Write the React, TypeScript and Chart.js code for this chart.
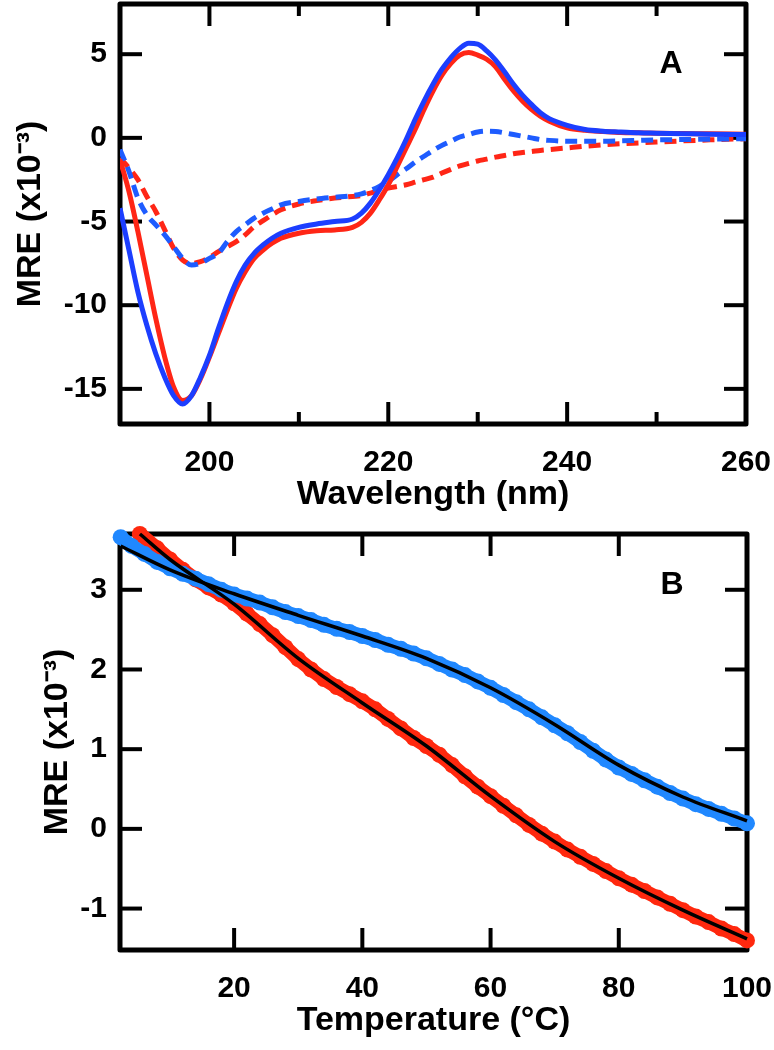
import React, { useEffect, useRef } from 'react';
import { Chart, registerables } from 'chart.js';

Chart.register(...registerables);

// ---------- Panel A: CD spectra ----------
const wavelengthNm = [190, 191, 192, 193, 194, 195, 196, 197, 198, 199, 200, 201, 202, 203, 204, 205, 206, 207, 208, 210, 212, 214, 216, 217, 218, 219, 220, 221, 222, 223, 224, 225, 226, 227, 228, 229, 230, 231, 232, 233, 234, 235, 236, 237, 238, 240, 242, 244, 246, 248, 250, 253, 256, 260];
const mreBlueSolid = [-4.2, -6.7, -9.2, -11.2, -12.9, -14.3, -15.4, -15.9, -15.4, -14.3, -13.0, -11.4, -9.9, -8.6, -7.6, -6.9, -6.4, -6.0, -5.7, -5.35, -5.15, -5.0, -4.85, -4.5, -3.9, -3.1, -2.2, -1.2, -0.1, 1.1, 2.2, 3.2, 4.1, 4.8, 5.35, 5.65, 5.6, 5.2, 4.65, 3.95, 3.2, 2.55, 2.0, 1.5, 1.15, 0.75, 0.5, 0.4, 0.35, 0.3, 0.28, 0.25, 0.22, 0.2];
const mreRedSolid = [-1.3, -3.2, -5.6, -8.2, -10.8, -13.1, -14.9, -15.7, -15.4, -14.4, -13.1, -11.7, -10.3, -9.0, -8.0, -7.2, -6.7, -6.3, -6.0, -5.7, -5.55, -5.5, -5.35, -5.05, -4.5, -3.7, -2.8, -1.7, -0.6, 0.5, 1.7, 2.8, 3.75, 4.45, 4.95, 5.1, 4.95, 4.7, 4.25, 3.5, 2.8, 2.2, 1.7, 1.3, 1.0, 0.6, 0.45, 0.38, 0.32, 0.3, 0.28, 0.26, 0.24, 0.22];
const mreBlueDashed = [-0.7, -2.0, -3.6, -4.6, -5.2, -5.8, -6.5, -7.2, -7.6, -7.5, -7.2, -6.9, -6.2, -5.6, -5.2, -4.8, -4.5, -4.25, -4.0, -3.8, -3.65, -3.55, -3.45, -3.35, -3.15, -2.9, -2.6, -2.2, -1.85, -1.45, -1.1, -0.75, -0.45, -0.2, 0.05, 0.2, 0.35, 0.4, 0.38, 0.3, 0.2, 0.1, 0.0, -0.1, -0.15, -0.2, -0.2, -0.2, -0.18, -0.15, -0.12, -0.1, -0.08, -0.05];
const mreRedDashed = [-1.2, -1.8, -2.5, -3.5, -4.4, -5.5, -6.6, -7.3, -7.5, -7.4, -7.15, -6.8, -6.5, -6.2, -5.8, -5.3, -4.95, -4.6, -4.3, -3.95, -3.75, -3.6, -3.5, -3.45, -3.3, -3.15, -3.0, -2.9, -2.8, -2.65, -2.5, -2.35, -2.1, -1.88, -1.68, -1.52, -1.38, -1.27, -1.15, -1.05, -0.95, -0.88, -0.82, -0.75, -0.7, -0.6, -0.5, -0.42, -0.35, -0.3, -0.25, -0.18, -0.12, -0.05];
const wavelengthTicks = [200, 220, 240, 260];
const wavelengthMinorTicks = [210, 230, 250];
const mreTicksA = [-15, -10, -5, 0, 5];

// ---------- Panel B: thermal melts ----------
const tempBlueC = [2.3, 4, 6, 8, 10, 12, 14, 16, 18, 20, 22, 24, 26, 28, 30, 32, 34, 36, 38, 40, 42, 44, 46, 48, 50, 52, 54, 56, 58, 60, 62, 64, 66, 68, 70, 72, 74, 76, 78, 80, 82, 84, 86, 88, 90, 92, 94, 96, 98, 100];
const mreBlueMelt = [3.66, 3.55, 3.45, 3.35, 3.27, 3.20, 3.14, 3.07, 3.00, 2.94, 2.89, 2.84, 2.78, 2.72, 2.67, 2.62, 2.56, 2.51, 2.47, 2.42, 2.37, 2.31, 2.26, 2.20, 2.14, 2.07, 2.00, 1.93, 1.85, 1.77, 1.68, 1.59, 1.50, 1.40, 1.30, 1.20, 1.09, 0.98, 0.87, 0.77, 0.69, 0.61, 0.53, 0.45, 0.38, 0.31, 0.25, 0.19, 0.13, 0.07];
const tempRedC = [5.3, 8, 10, 12, 14, 16, 18, 20, 22, 24, 26, 28, 30, 32, 34, 36, 38, 40, 42, 44, 46, 48, 50, 52, 54, 56, 58, 60, 62, 64, 66, 68, 70, 72, 74, 76, 78, 80, 82, 84, 86, 88, 90, 92, 94, 96, 98, 100];
const mreRedMelt = [3.70, 3.52, 3.38, 3.25, 3.13, 3.03, 2.94, 2.83, 2.70, 2.57, 2.43, 2.28, 2.13, 2.00, 1.88, 1.78, 1.69, 1.60, 1.50, 1.38, 1.26, 1.14, 1.04, 0.93, 0.80, 0.66, 0.53, 0.41, 0.29, 0.17, 0.05, -0.06, -0.16, -0.26, -0.35, -0.44, -0.53, -0.62, -0.70, -0.78, -0.86, -0.94, -1.02, -1.10, -1.17, -1.25, -1.32, -1.40];
const fitTempBlue = [2.3, 10, 20, 30, 40, 50, 60, 70, 80, 90, 100];
const fitMreBlue = [3.55, 3.25, 2.95, 2.68, 2.42, 2.14, 1.77, 1.31, 0.80, 0.40, 0.10];
const fitTempRed = [5.3, 10, 20, 30, 40, 50, 60, 70, 80, 90, 100];
const fitMreRed = [3.70, 3.38, 2.82, 2.14, 1.58, 1.04, 0.41, -0.16, -0.62, -1.02, -1.38];
const tempTicks = [20, 40, 60, 80, 100];
const mreTicksB = [-1, 0, 1, 2, 3];

const FONT_FAMILY = '"Liberation Sans", Arial, Helvetica, sans-serif';
const tickFont = { family: FONT_FAMILY, size: 30, weight: 'bold' as const };
const titleFont = { family: FONT_FAMILY, size: 34, weight: 'bold' as const };

const RED_A = 'rgb(255, 38, 22)';
const BLUE_A = 'rgb(28, 62, 255)';
const BLUE_A_DASH = 'rgb(30, 92, 255)';
const RED_B = 'rgb(255, 40, 14)';
const BLUE_B = 'rgb(32, 136, 255)';

type FrameCfg = { xMajor: number[]; xMinor: number[]; yMajor: number[]; label: string; labelDx: number; labelDy: number };

function makeFramePlugin(cfg: FrameCfg) {
  return {
    id: 'panelFrame',
    beforeDatasetsDraw(chart: any) {
      const { ctx, chartArea } = chart;
      const { left, right, top, bottom } = chartArea;
      const xs = chart.scales.x;
      const ys = chart.scales.y;
      const MAJOR = 22;
      const MINOR = 12;
      ctx.save();
      ctx.strokeStyle = '#000';
      ctx.lineCap = 'butt';
      ctx.lineWidth = 4;
      const seg = (x1: number, y1: number, x2: number, y2: number) => {
        ctx.beginPath();
        ctx.moveTo(x1, y1);
        ctx.lineTo(x2, y2);
        ctx.stroke();
      };
      cfg.xMajor.forEach((v) => {
        const p = xs.getPixelForValue(v);
        seg(p, bottom, p, bottom - MAJOR);
        seg(p, top, p, top + MAJOR);
      });
      cfg.xMinor.forEach((v) => {
        const p = xs.getPixelForValue(v);
        seg(p, bottom, p, bottom - MINOR);
        seg(p, top, p, top + MINOR);
      });
      cfg.yMajor.forEach((v) => {
        const p = ys.getPixelForValue(v);
        seg(left, p, left + MAJOR, p);
        seg(right, p, right - MAJOR, p);
      });
      ctx.lineWidth = 5;
      ctx.lineJoin = 'round';
      ctx.strokeRect(left, top, right - left, bottom - top);
      ctx.fillStyle = '#000';
      ctx.font = `bold 32px ${FONT_FAMILY}`;
      ctx.textAlign = 'center';
      ctx.textBaseline = 'middle';
      ctx.fillText(cfg.label, right - cfg.labelDx, top + cfg.labelDy);
      ctx.restore();
    },
  };
}

function xyPairs(xs: number[], ys: number[]) {
  return xs.map((x, i) => ({ x, y: ys[i] }));
}

function axisX(min: number, max: number, ticks: number[], title: string) {
  return {
    type: 'linear' as const,
    position: 'bottom' as const,
    min,
    max,
    grid: { display: false, drawTicks: false },
    border: { display: false },
    ticks: { font: tickFont, color: '#000', padding: 21, autoSkip: false, maxRotation: 0 },
    afterBuildTicks: (s: any) => {
      s.ticks = ticks.map((v) => ({ value: v }));
    },
    afterFit: (s: any) => {
      s.height = 96;
      s.paddingLeft = 0;
      s.paddingRight = 0;
    },
    title: { display: true, text: title, font: titleFont, color: '#000', padding: { top: 0, bottom: 5 } },
  };
}

function axisY(min: number, max: number, ticks: number[], titlePad: number) {
  return {
    type: 'linear' as const,
    position: 'left' as const,
    min,
    max,
    grid: { display: false, drawTicks: false },
    border: { display: false },
    ticks: { font: tickFont, color: '#000', padding: 13, autoSkip: false },
    afterBuildTicks: (s: any) => {
      s.ticks = ticks.map((v) => ({ value: v }));
    },
    afterFit: (s: any) => {
      s.width = 120;
      s.paddingTop = 0;
      s.paddingBottom = 0;
    },
    title: { display: true, text: 'MRE (x10\u207B\u00B3)', font: titleFont, color: '#000', padding: { top: titlePad, bottom: 0 } },
  };
}

function PanelA() {
  const ref = useRef<HTMLCanvasElement | null>(null);
  useEffect(() => {
    if (!ref.current) return;
    const line = (data: number[], color: string, dash: number[]) => ({
      data: xyPairs(wavelengthNm, data),
      borderColor: color,
      backgroundColor: color,
      borderWidth: 5,
      borderDash: dash,
      borderCapStyle: 'butt' as const,
      showLine: true,
      pointRadius: 0,
      cubicInterpolationMode: 'monotone' as const,
    });
    const chart = new Chart(ref.current, {
      type: 'scatter',
      data: {
        datasets: [
          line(mreBlueSolid, BLUE_A, []),
          line(mreRedSolid, RED_A, []),
          line(mreBlueDashed, BLUE_A_DASH, [12, 7]),
          line(mreRedDashed, RED_A, [12, 7]),
        ],
      },
      options: {
        responsive: false,
        animation: false,
        events: [],
        layout: { padding: { top: 4, right: 28, bottom: 0, left: 0 } },
        plugins: { legend: { display: false }, tooltip: { enabled: false } },
        scales: {
          x: axisX(190, 260, wavelengthTicks, 'Wavelength (nm)'),
          y: axisY(-17.1, 8.0, mreTicksA, 10),
        },
      },
      plugins: [makeFramePlugin({ xMajor: wavelengthTicks, xMinor: wavelengthMinorTicks, yMajor: mreTicksA, label: 'A', labelDx: 75, labelDy: 60 })],
    });
    return () => chart.destroy();
  }, []);
  return <canvas ref={ref} width={774} height={520} style={{ position: 'absolute', left: 0, top: 0, display: 'block' }} />;
}

function PanelB() {
  const ref = useRef<HTMLCanvasElement | null>(null);
  useEffect(() => {
    if (!ref.current) return;
    const band = (xs: number[], ys: number[], color: string) => ({
      data: xyPairs(xs, ys),
      borderColor: color,
      backgroundColor: color,
      borderWidth: 14,
      showLine: true,
      pointRadius: 8,
      pointBorderWidth: 0,
      clip: false as const,
    });
    const fit = (xs: number[], ys: number[]) => ({
      data: xyPairs(xs, ys),
      borderColor: '#000',
      backgroundColor: '#000',
      borderWidth: 3.5,
      showLine: true,
      pointRadius: 0,
      cubicInterpolationMode: 'monotone' as const,
      clip: false as const,
    });
    const chart = new Chart(ref.current, {
      type: 'scatter',
      data: {
        datasets: [
          fit(fitTempBlue, fitMreBlue),
          fit(fitTempRed, fitMreRed),
          band(tempBlueC, mreBlueMelt, BLUE_B),
          band(tempRedC, mreRedMelt, RED_B),
        ],
      },
      options: {
        responsive: false,
        animation: false,
        events: [],
        layout: { padding: { top: 14, right: 27, bottom: 4, left: 0 } },
        plugins: { legend: { display: false }, tooltip: { enabled: false } },
        scales: {
          x: axisX(2.2, 100, tempTicks, 'Temperature (\u00B0C)'),
          y: axisY(-1.52, 3.7, mreTicksB, 37),
        },
      },
      plugins: [makeFramePlugin({ xMajor: tempTicks, xMinor: [], yMajor: mreTicksB, label: 'B', labelDx: 75, labelDy: 51 })],
    });
    return () => chart.destroy();
  }, []);
  return <canvas ref={ref} width={774} height={530} style={{ position: 'absolute', left: 0, top: 520, display: 'block' }} />;
}

export default function App() {
  return (
    <div style={{ position: 'absolute', left: 0, top: 0, width: 774, height: 1050, background: '#fff', overflow: 'hidden' }}>
      <PanelA />
      <PanelB />
    </div>
  );
}
